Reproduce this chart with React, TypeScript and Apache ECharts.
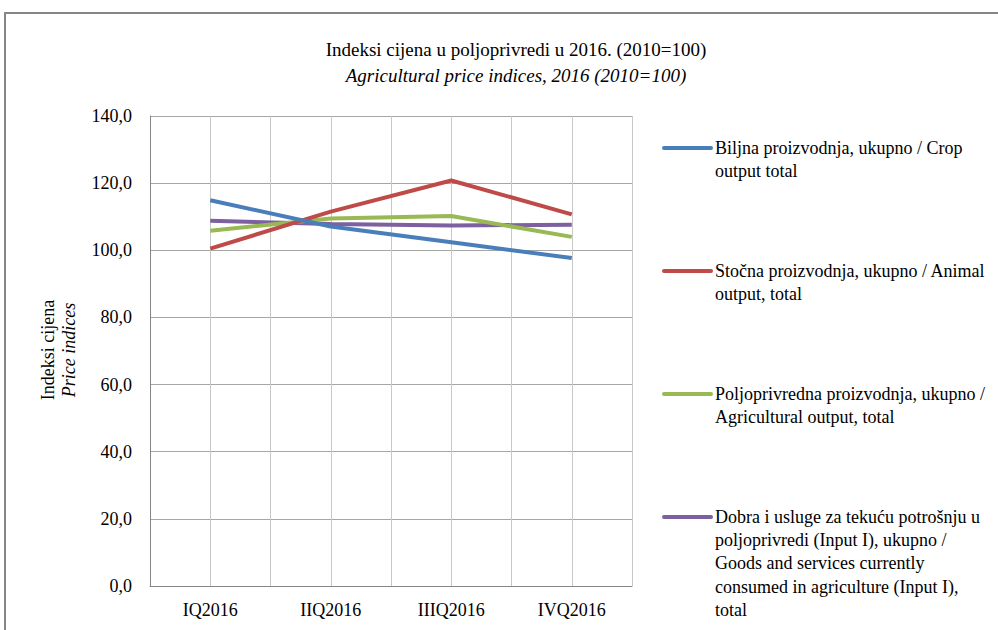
import React, { useEffect, useRef } from "react";
import * as echarts from "echarts";

const categories = ["IQ2016", "IIQ2016", "IIIQ2016", "IVQ2016"];
const seriesNames = [
  "Biljna proizvodnja, ukupno / Crop\noutput total",
  "Stočna proizvodnja, ukupno / Animal\noutput, total",
  "Poljoprivredna proizvodnja, ukupno /\nAgricultural output, total",
  "Dobra i usluge za tekuću potrošnju u\npoljoprivredi (Input I), ukupno /\nGoods and services currently\nconsumed in agriculture (Input I),\ntotal",
];
const cropValues = [114.9, 107.1, 102.4, 97.7];
const animalValues = [100.5, 111.5, 120.8, 110.7];
const agriValues = [105.8, 109.5, 110.2, 104.0];
const inputValues = [108.8, 107.8, 107.4, 107.6];
const colors = ["#4a7ebb", "#be4b48", "#98b954", "#7d60a0"];
const allValues = [cropValues, animalValues, agriValues, inputValues];
const titleMain = "Indeksi cijena u poljoprivredi u 2016. (2010=100)";
const titleSub = "Agricultural price indices, 2016 (2010=100)";
const yNameMain = "Indeksi cijena";
const yNameSub = "Price indices";

const FONT = "Liberation Serif";

export default function App() {
  const ref = useRef<HTMLDivElement>(null);
  useEffect(() => {
    if (!ref.current) return;
    const chart = echarts.init(ref.current, undefined, { renderer: "svg" });
    const legendTops = [148, 271, 394, 517];
    const legendGraphics: any[] = [];
    seriesNames.forEach((name, i) => {
      legendGraphics.push({
        type: "line",
        shape: { x1: 664, y1: legendTops[i], x2: 711, y2: legendTops[i] },
        style: { stroke: colors[i], lineWidth: 4, lineCap: "round" },
      });
      legendGraphics.push({
        type: "text",
        x: 715,
        y: legendTops[i] - 12,
        style: {
          text: name,
          fontFamily: FONT,
          fontSize: 18,
          fill: "#000",
          lineHeight: 23.3,
          verticalAlign: "top",
        },
      });
    });
    const option: any = {
      animation: false,
      backgroundColor: "#fff",
      textStyle: { fontFamily: FONT },
      title: [
        {
          text: titleMain,
          left: 511,
          top: 35,
          textAlign: "center",
          textStyle: { fontFamily: FONT, fontSize: 19, fontWeight: "normal", color: "#000" },
        },
        {
          text: titleSub,
          left: 511,
          top: 61,
          textAlign: "center",
          textStyle: { fontFamily: FONT, fontSize: 19, fontWeight: "normal", fontStyle: "italic", color: "#000" },
        },
      ],
      grid: { left: 150, right: 366, top: 116, bottom: 44 },
      xAxis: [
        {
          type: "category",
          data: categories,
          boundaryGap: true,
          axisLine: { lineStyle: { color: "#868686", width: 1 } },
          axisTick: { show: false },
          axisLabel: { color: "#000", fontFamily: FONT, fontSize: 18, margin: 15 },
          splitLine: { show: false },
        },
        {
          type: "category",
          data: ["a", "b", "c", "d", "e", "f", "g", "h"],
          position: "bottom",
          boundaryGap: true,
          axisLine: { show: false },
          axisTick: { show: false },
          axisLabel: { show: false },
          splitLine: { show: true, lineStyle: { color: "#c8c8c8", width: 1 } },
        },
      ],
      yAxis: {
        type: "value",
        min: 0,
        max: 140,
        interval: 20,
        axisLine: { show: true, lineStyle: { color: "#868686", width: 1 } },
        axisTick: { show: false },
        axisLabel: {
          color: "#000",
          fontFamily: FONT,
          fontSize: 18,
          margin: 18,
          formatter: (v: number) => v.toFixed(1).replace(".", ","),
        },
        splitLine: { show: true, lineStyle: { color: "#a6a6a6", width: 1 } },
      },
      series: allValues.map((vals, i) => ({
        name: seriesNames[i],
        type: "line",
        data: vals,
        xAxisIndex: 0,
        symbol: "none",
        lineStyle: { color: colors[i], width: 4 },
        itemStyle: { color: colors[i] },
        z: 10 - i,
      })),
      graphic: [
        {
          type: "rect",
          shape: { x: 5, y: 13, width: 1100, height: 800 },
          style: { fill: "none", stroke: "#868686", lineWidth: 2 },
          silent: true,
        },
        {
          type: "text",
          x: 48,
          y: 350,
          rotation: Math.PI / 2,
          style: {
            text: yNameMain,
            fontFamily: FONT,
            fontSize: 18,
            fill: "#000",
            align: "center",
            verticalAlign: "middle",
          },
        },
        {
          type: "text",
          x: 69,
          y: 350,
          rotation: Math.PI / 2,
          style: {
            text: yNameSub,
            fontFamily: FONT,
            fontSize: 18,
            fontStyle: "italic",
            fill: "#000",
            align: "center",
            verticalAlign: "middle",
          },
        },
        ...legendGraphics,
      ],
    };
    chart.setOption(option);
    return () => chart.dispose();
  }, []);
  return <div ref={ref} style={{ width: 998, height: 630, position: "absolute", left: 0, top: 0 }} />;
}
